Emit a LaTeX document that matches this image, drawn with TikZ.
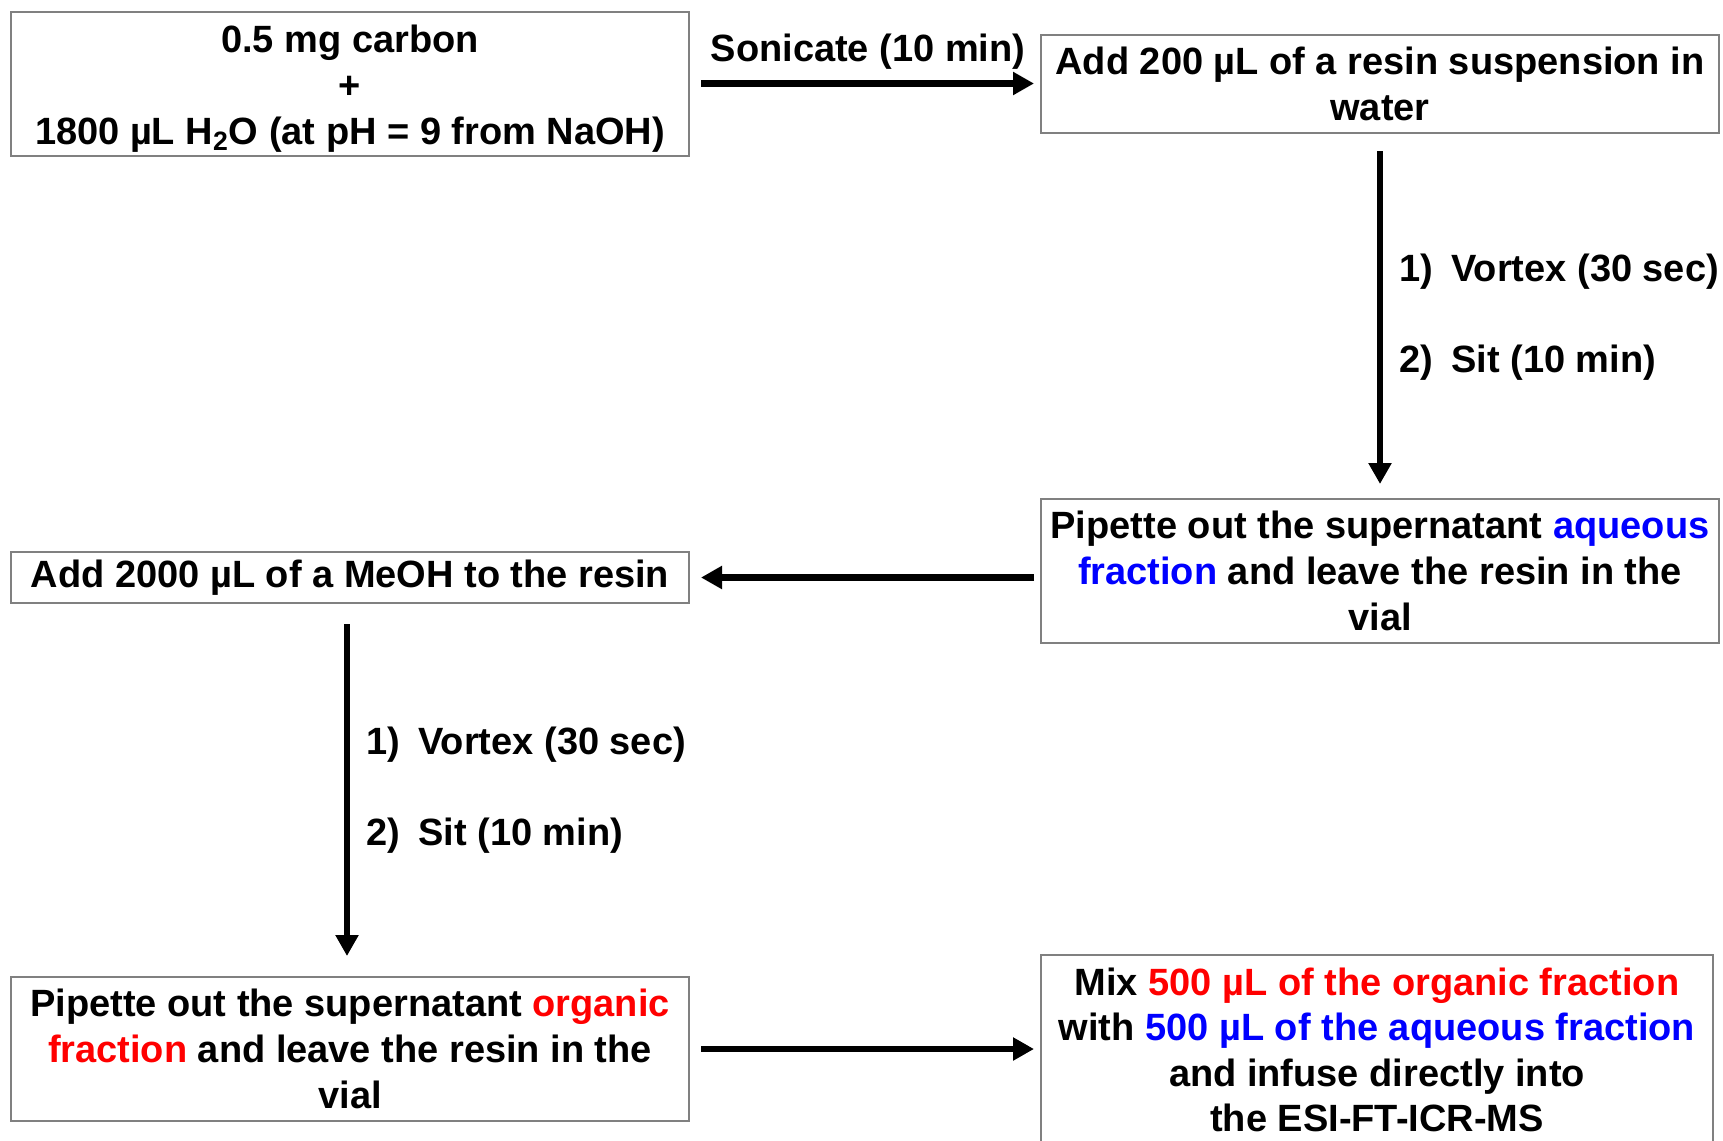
\documentclass[tikz,border=0pt]{standalone}
\usepackage{fontspec}
\setmainfont{Liberation Sans}
\usetikzlibrary{arrows.meta}
\begin{document}
\begin{tikzpicture}[x=0.5pt,y=-0.5pt,
  txt/.style={font=\fontsize{19}{22.8}\selectfont\bfseries},
  box/.style={txt, draw=black!50, line width=1pt, fill=white, align=center, inner sep=0pt, minimum width=339pt},
  lbl/.style={txt, inner sep=0pt},
  flow/.style={line width=3.4pt, -{Triangle[length=10.5pt,width=11pt]}}]
\clip (0,0) rectangle (1723,1140);
\fill[white] (0,0) rectangle (1723,1140);
% boxes
\node[box, minimum height=72pt] (b1) at (350,83.5) {\rule{0pt}{19pt}0.5 mg carbon\\+\\1800 µL H\smash{\textsubscript{2}}O (at pH = 9 from NaOH)};
\node[box, minimum height=49pt] (b2) at (1380,84) {Add 200 µL of a resin suspension in\\water};
\node[box, minimum height=72pt] (b3) at (1380,571) {Pipette out the supernatant \textcolor{blue}{aqueous}\\\textcolor{blue}{fraction} and leave the resin in the\\vial};
\node[box, minimum height=25.5pt] (b4) at (350,577.5) {Add 2000 µL of a MeOH to the resin};
\node[box, minimum height=72pt] (b5) at (350,1049) {Pipette out the supernatant \textcolor{red}{organic}\\\textcolor{red}{fraction} and leave the resin in the\\vial};
\node[box, minimum height=95pt, minimum width=336pt, anchor=north] (b6) at (1377,954) {Mix \textcolor{red}{500 µL of the organic fraction}\\with \textcolor{blue}{500 µL of the aqueous fraction}\\and infuse directly into\\the ESI-FT-ICR-MS};
% connectors
\draw[flow, shorten <=5.5pt, shorten >=3pt] (b1.east) -- (b1.east -| b2.west);
\draw[flow, shorten <=8.5pt, shorten >=7pt] (b2.south) -- (b3.north);
\draw[flow, shorten <=3pt, shorten >=5.5pt] (b3.west |- b4.east) -- (b4.east);
\draw[flow, shorten <=10pt, shorten >=10pt] ([xshift=-1.5pt]b4.south) -- ([xshift=-1.5pt]b5.north);
\draw[flow, shorten <=5.5pt, shorten >=3pt] (b5.east) -- (b5.east -| b6.west);
% labels
\node[lbl] (son) at (868,52) {Sonicate (10 min)};
\node[lbl, anchor=west] (r1n) at (1399,272) {1)};
\node[lbl, anchor=west] (r1t) at (1451,272) {Vortex (30 sec)};
\node[lbl, anchor=west] (r2n) at (1399,363) {2)};
\node[lbl, anchor=west] (r2t) at (1451,363) {Sit (10 min)};
\node[lbl, anchor=west] (l1n) at (366,745) {1)};
\node[lbl, anchor=west] (l1t) at (418,745) {Vortex (30 sec)};
\node[lbl, anchor=west] (l2n) at (366,836) {2)};
\node[lbl, anchor=west] (l2t) at (418,836) {Sit (10 min)};
\end{tikzpicture}
\end{document}
